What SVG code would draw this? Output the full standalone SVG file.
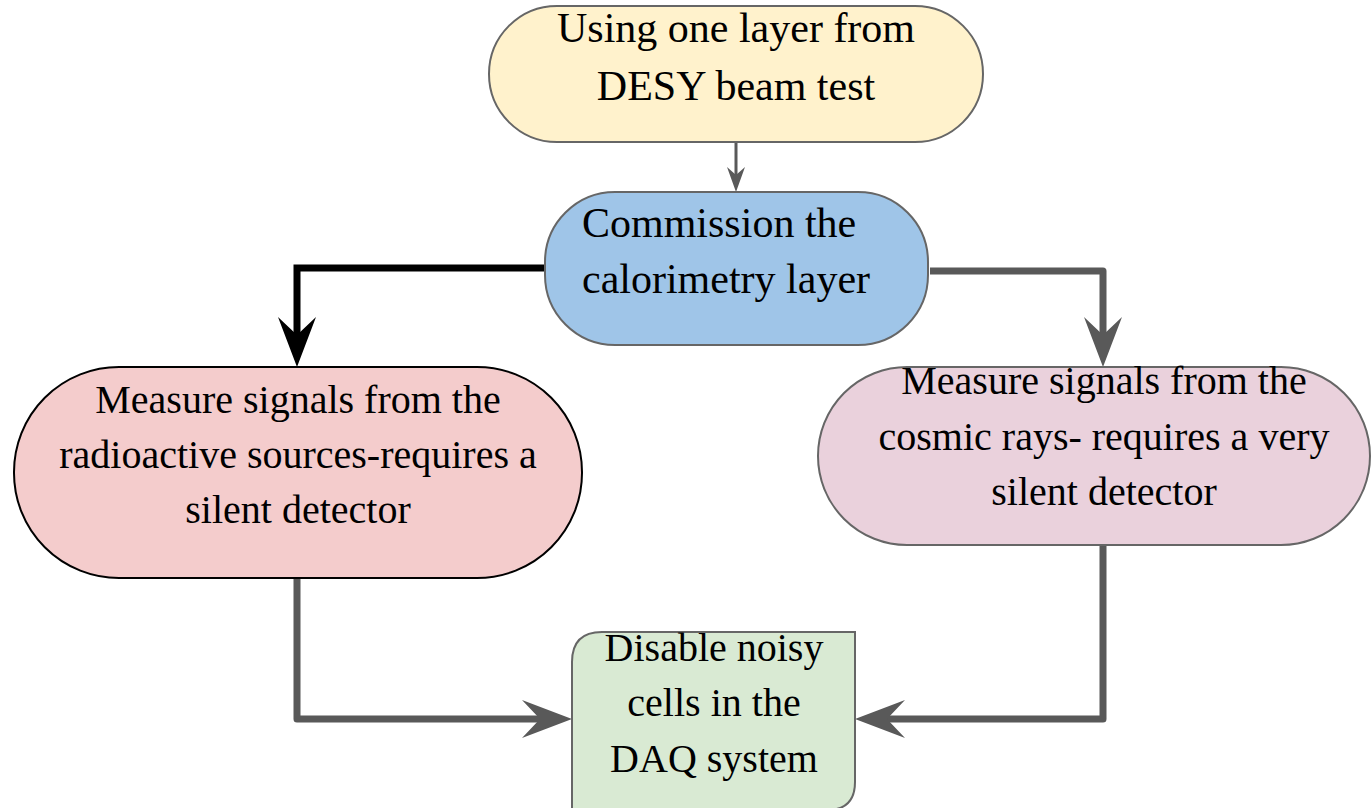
<svg xmlns="http://www.w3.org/2000/svg" width="1371" height="808" viewBox="0 0 1371 808">
<style>
.t{font-family:"Liberation Serif","Times New Roman",serif;fill:#000}
.t42{font-size:42px}
.t40{font-size:40px}
.c{text-anchor:middle}
.gs{stroke:#666;stroke-width:2}
.conn{fill:none;stroke-width:7}
</style>
<defs>
<marker id="ahGray" markerUnits="userSpaceOnUse" markerWidth="54" markerHeight="44" refX="24" refY="21" orient="auto" viewBox="0 0 54 44">
<path d="M2,2 L52,21 L2,40 L20,21 Z" fill="#595959"/>
</marker>
<marker id="ahBlack" markerUnits="userSpaceOnUse" markerWidth="54" markerHeight="44" refX="24" refY="21" orient="auto" viewBox="0 0 54 44">
<path d="M2,2 L52,21 L2,40 L20,21 Z" fill="#000"/>
</marker>
<marker id="ahSmall" markerUnits="userSpaceOnUse" markerWidth="28" markerHeight="22" refX="12" refY="10" orient="auto" viewBox="0 0 28 22">
<path d="M1,1 L26,10 L1,19 L9,10 Z" fill="#595959"/>
</marker>
</defs>
<g id="connectors">
<line x1="736" y1="143" x2="736" y2="178" stroke="#595959" stroke-width="3" marker-end="url(#ahSmall)"/>
<path class="conn" d="M545,268 L297,268 L297,339" stroke="#000" stroke-linejoin="miter" marker-end="url(#ahBlack)"/>
<path class="conn" d="M930,271 L1103,271 L1103,339" stroke="#595959" stroke-linejoin="round" marker-end="url(#ahGray)"/>
<path class="conn" d="M297,579 L297,719 L544,719" stroke="#595959" stroke-linejoin="round" marker-end="url(#ahGray)"/>
<path class="conn" d="M1103,546 L1103,719 L883,719" stroke="#595959" stroke-linejoin="round" marker-end="url(#ahGray)"/>
</g>
<g id="node-desy">
<rect x="489" y="6" width="494" height="136" rx="68" ry="68" fill="#fff2cc" class="gs"/>
<text class="t t42 c" x="736" y="42">Using one layer from</text>
<text class="t t42 c" x="736" y="100">DESY beam test</text>
</g>
<g id="node-commission">
<rect x="545" y="192" width="383" height="153" rx="70" ry="70" fill="#9fc5e8" class="gs"/>
<text class="t t42" x="582" y="237">Commission the</text>
<text class="t t42" x="582" y="293">calorimetry layer</text>
</g>
<g id="node-radioactive">
<rect x="14" y="367" width="568" height="211" rx="105" ry="105" fill="#f4cccc" stroke="#000" stroke-width="2"/>
<text class="t t40 c" x="298" y="413">Measure signals from the</text>
<text class="t t40 c" x="298" y="468">radioactive sources-requires a</text>
<text class="t t40 c" x="298" y="523">silent detector</text>
</g>
<g id="node-cosmic">
<rect x="818" y="367" width="552" height="178" rx="89" ry="89" fill="#ead1dc" class="gs"/>
<text class="t t40 c" x="1104" y="394">Measure signals from the</text>
<text class="t t40 c" x="1104" y="450">cosmic rays- requires a very</text>
<text class="t t40 c" x="1104" y="505">silent detector</text>
</g>
<g id="node-disable">
<path d="M572,812 L572,662 Q572,632 602,632 L855,632 L855,782 Q855,810 827,810 L572,810 Z" fill="#d9ead3" class="gs"/>
<text class="t t40 c" x="714" y="661">Disable noisy</text>
<text class="t t40 c" x="714" y="716">cells in the</text>
<text class="t t40 c" x="714" y="772">DAQ system</text>
</g>
</svg>
